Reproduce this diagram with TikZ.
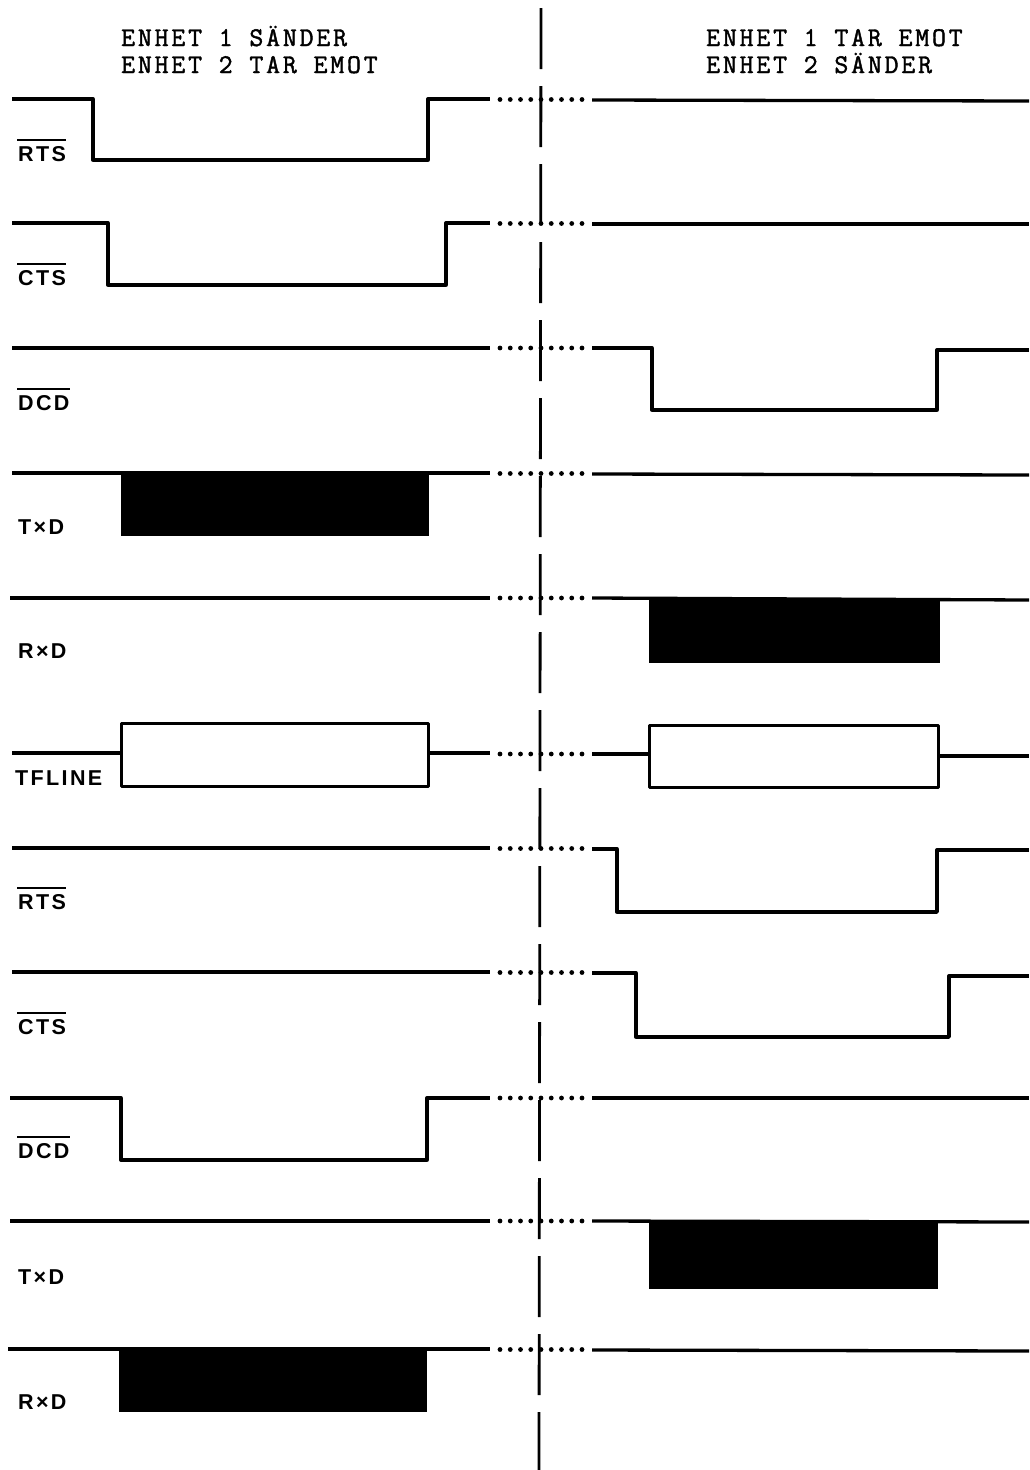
\documentclass[tikz,border=0pt]{standalone}
\usepackage{fontspec}
\setmainfont{Liberation Sans}
\setmonofont{Latin Modern Mono}[LetterSpace=10.5,FakeBold=1.6]
\newfontfamily\lblfont{Liberation Sans}[LetterSpace=11]
\newcommand\dotrowat[1]{\foreach \k in {0,...,8} \fill (500+10.25*\k,#1) circle (2.4);}
\begin{document}
\begin{tikzpicture}[x=1pt,y=-1pt,
  sig/.style={line width=3.3pt, line join=round},
  blk/.style={fill=black, draw=black, line width=1pt},
  wbox/.style={draw=black, fill=white, line width=3pt, line join=round},
  lbl/.style={inner sep=0pt, anchor=base west, font=\lblfont\bfseries\fontsize{21.5}{22}\selectfont},
  hdr/.style={inner sep=0pt, anchor=base west, font=\ttfamily\fontsize{27}{28}\selectfont},
  ovl/.style={line width=2pt},
  mid/.style={line width=2.8pt, dash pattern=on 61pt off 17pt}]
\useasboundingbox (0,0) rectangle (1029,1470);
\fill[white] (0,0) rectangle (1029,1470);

% headers
\node[hdr] (h1) at (121,46) {ENHET 1 SÄNDER};
\node[hdr] (h2) at (121,73) {ENHET 2 TAR EMOT};
\node[hdr] (h3) at (706,46) {ENHET 1 TAR EMOT};
\node[hdr] (h4) at (706,73) {ENHET 2 SÄNDER};

% centre line
\draw[mid] (541,8) -- (539,1470);

% row 1 RTS
\draw[sig] (12,99) -- (93,99) -- (93,160) -- (428,160) -- (428,99) -- (490,99);
\draw[sig] (592,100) -- (1029,101);
\dotrowat{99.5}
% row 2 CTS
\draw[sig] (12,223) -- (108,223) -- (108,285) -- (446,285) -- (446,223) -- (490,223);
\draw[sig] (592,224) -- (1029,224);
\dotrowat{223.5}
% row 3 DCD
\draw[sig] (12,348) -- (490,348);
\draw[sig] (592,348) -- (652,348) -- (652,410) -- (937,410) -- (937,350) -- (1029,350);
\dotrowat{348}
% row 4 TxD
\draw[sig] (12,473) -- (490,473);
\draw[sig] (592,474) -- (1029,475);
\draw[blk] (121,473) rectangle (428,535);
\dotrowat{473.5}
% row 5 RxD
\draw[sig] (10,598) -- (490,598);
\draw[sig] (592,598) -- (1029,600);
\draw[blk] (649,598) rectangle (939,662);
\dotrowat{598}
% row 6 TFLINE
\draw[sig] (12,753) -- (121,753);
\draw[wbox] (121,723) rectangle (428,786);
\draw[sig] (428,753) -- (490,753);
\draw[sig] (592,754) -- (649,754);
\draw[wbox] (649,725) rectangle (938,787);
\draw[sig] (938,756) -- (1029,756);
\dotrowat{754}
% row 7 RTS
\draw[sig] (12,848) -- (490,848);
\draw[sig] (592,849) -- (617,849) -- (617,912) -- (937,912) -- (937,850) -- (1029,850);
\dotrowat{848.5}
% row 8 CTS
\draw[sig] (12,972) -- (490,972);
\draw[sig] (592,973) -- (636,973) -- (636,1037) -- (949,1037) -- (949,976) -- (1029,976);
\dotrowat{972.5}
% row 9 DCD
\draw[sig] (10,1098) -- (121,1098) -- (121,1160) -- (427,1160) -- (427,1098) -- (490,1098);
\draw[sig] (592,1098) -- (1029,1098);
\dotrowat{1098}
% row 10 TxD
\draw[sig] (10,1221) -- (490,1221);
\draw[sig] (592,1221) -- (1029,1222);
\draw[blk] (649,1221) rectangle (937,1288);
\dotrowat{1221}
% row 11 RxD
\draw[sig] (8,1349) -- (490,1349);
\draw[sig] (592,1350) -- (1029,1351);
\draw[blk] (119,1347) rectangle (426,1411);
\dotrowat{1349.5}

% labels
\node[lbl] (l1) at (18,161) {RTS};
\node[lbl] (l2) at (18,285) {CTS};
\node[lbl] (l3) at (18,410) {DCD};
\node[lbl] (l4) at (18,534) {T×D};
\node[lbl] (l5) at (18,658) {R×D};
\node[lbl] (l6) at (15,785) {TFLINE};
\node[lbl] (l7) at (18,909) {RTS};
\node[lbl] (l8) at (18,1034) {CTS};
\node[lbl] (l9) at (18,1158) {DCD};
\node[lbl] (l10) at (18,1284) {T×D};
\node[lbl] (l11) at (18,1409) {R×D};
\foreach \n in {l1,l2,l3,l7,l8,l9}
  \draw[ovl] ([xshift=-1pt,yshift=6pt]\n.north west) -- ([yshift=6pt]\n.north east);
\end{tikzpicture}
\end{document}
